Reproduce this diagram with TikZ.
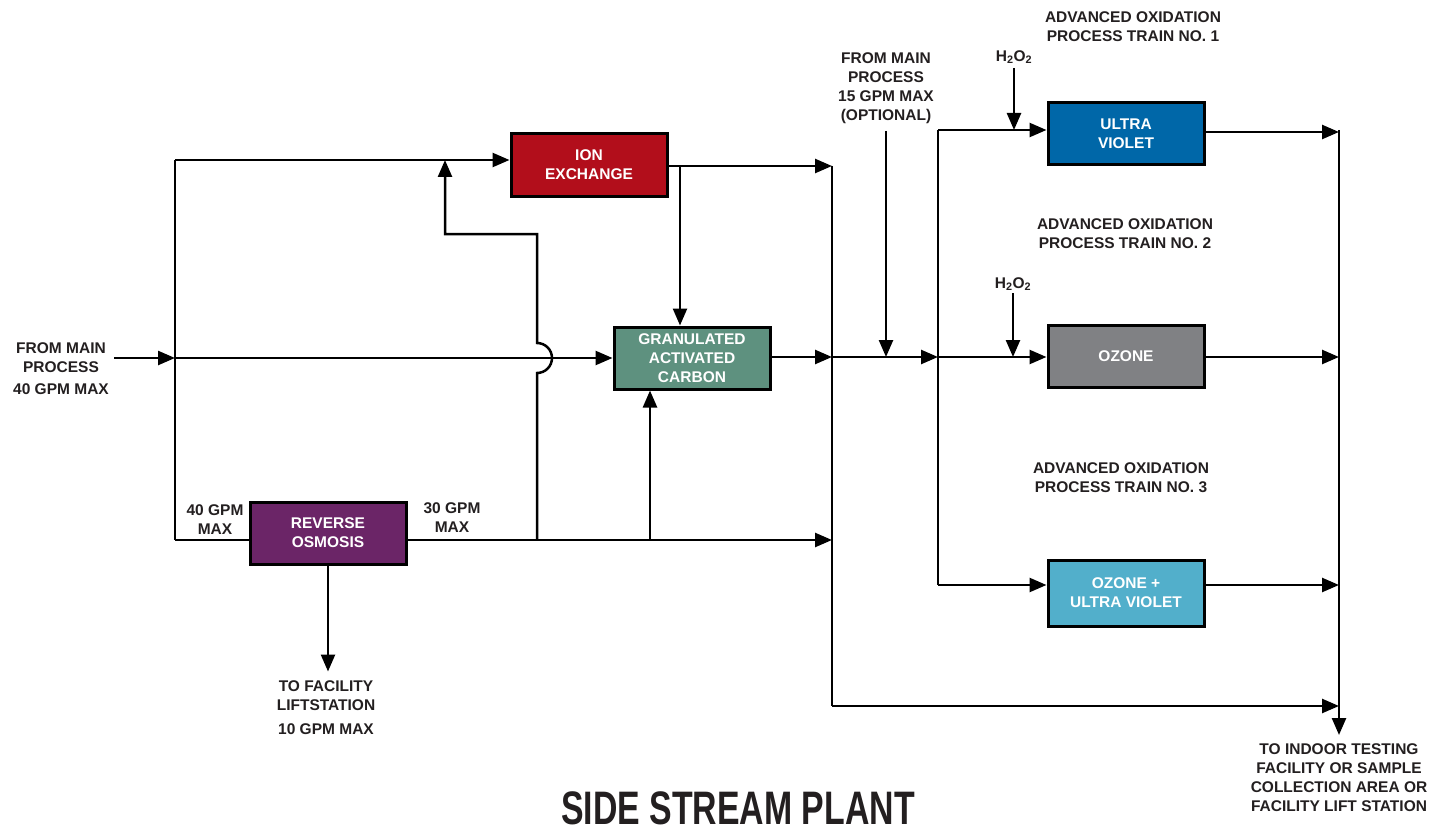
\documentclass[tikz,border=0pt]{standalone}
\usepackage{fontspec}
\usepackage{graphicx}
\setmainfont{Liberation Sans}
\usetikzlibrary{arrows.meta}
\definecolor{ink}{HTML}{231F20}
\definecolor{ixred}{HTML}{B20E1B}
\definecolor{gacgreen}{HTML}{5E917F}
\definecolor{ropurple}{HTML}{6B2567}
\definecolor{uvblue}{HTML}{0067A8}
\definecolor{ozgrey}{HTML}{808184}
\definecolor{ozuvcyan}{HTML}{52AFCB}
\tikzset{
        unit/.style={draw=black, line width=3pt, minimum width=156pt, minimum height=62pt,
                align=center, text=white, inner sep=0pt,
                font=\bfseries\fontsize{15.5}{19}\selectfont},
        lbl/.style={align=center, text=ink, inner sep=0pt,
                font=\bfseries\fontsize{15.5}{19}\selectfont},
        pipe/.style={line width=2.5pt, draw=black},
        flow/.style={pipe, -{Triangle[length=17pt,width=14pt]}}
}
\begin{document}
\begin{tikzpicture}[x=1pt,y=-1pt]
        \useasboundingbox (0,0) rectangle (1449,832);
        % treatment units
        \node[unit, fill=ixred] (ionx) at (589,165) {ION\\EXCHANGE};
        \node[unit, fill=gacgreen] (gac) at (692,358) {GRANULATED\\ACTIVATED\\CARBON};
        \node[unit, fill=ropurple] (ro) at (328,533) {REVERSE\\OSMOSIS};
        \node[unit, fill=uvblue] (uv) at (1126,134) {ULTRA\\VIOLET};
        \node[unit, fill=ozgrey] (ozone) at (1126,356) {OZONE};
        \node[unit, fill=ozuvcyan, minimum height=66pt] (ozuv) at (1126,593) {OZONE +\\ULTRA VIOLET};

        % junctions
        \coordinate (src) at (114,358);
        \coordinate (tee) at (175,358);
        \coordinate (teeUp) at (175,160);
        \coordinate (teeDn) at (175,540);
        \coordinate (bend) at (537,540);
        \coordinate (hopLo) at (537,373);
        \coordinate (bypass) at (445,234);
        \coordinate (gacfeed) at (650,540);
        \coordinate (ixdrop) at (680,166);
        \coordinate (mixTop) at (832,166);
        \coordinate (mixBot) at (832,706);
        \coordinate (hub) at (938,357);
        \coordinate (distTop) at (938,130);
        \coordinate (distBot) at (938,585);
        \coordinate (outTop) at (1339,130);
        \coordinate (outBot) at (1339,735);

        % left side
        \draw[flow] (src) -- (tee);
        \draw[pipe] (teeUp) -- (teeDn);
        \draw[flow] (teeUp) -- (ionx.west |- teeUp);
        \draw[flow] (tee) -- (gac.west |- tee);
        \draw[pipe] (teeDn) -- (ro.west |- teeDn);
        \draw[flow] (ro.east |- bend) -- (bend -| mixTop);
        \draw[flow] (bend) -- (hopLo) arc[start angle=90, end angle=-90, radius=15] -- (bend |- bypass) -- (bypass) -- (bypass |- teeUp);
        %\draw[pipe] (bend) -- (bend |- bypass);
        \draw[flow] (gacfeed) -- (gacfeed |- gac.south);
        \draw[flow] (ixdrop) -- (ixdrop |- gac.north);
        \draw[flow] (ro.south) -- ++(0,106);

        % collector
        \draw[pipe] (mixTop) -- (mixBot);
        \draw[flow] (ionx.east |- mixTop) -- (mixTop);
        \draw[flow] (gac.east |- hub) -- (hub -| mixTop);
        \draw[flow] (hub -| mixTop) -- (hub);

        % advanced oxidation trains
        \draw[pipe] (distTop) -- (distBot);
        \draw[flow] (distTop) -- (uv.west |- distTop);
        \draw[flow] (hub) -- (ozone.west |- hub);
        \draw[flow] (distBot) -- (ozuv.west |- distBot);
        \draw[flow] (outTop) -- (outBot);
        \draw[flow] (uv.east |- 0,132) -- (outTop |- 0,132);
        \draw[flow] (ozone.east |- hub) -- (outTop |- hub);
        \draw[flow] (ozuv.east |- distBot) -- (outTop |- distBot);
        \draw[flow] (mixBot) -- (mixBot -| outTop);

        % labels
        \node[lbl] (srclbl) at (61,369) {FROM MAIN\\PROCESS\\[3pt]40 GPM MAX};
        \node[lbl] (roin) at (215,520) {40 GPM\\MAX};
        \node[lbl] (roout) at (452,518) {30 GPM\\MAX};
        \node[lbl, anchor=north] (lift) at (326,680) {TO FACILITY\\LIFTSTATION\\[5pt]10 GPM MAX};
        \node[lbl, anchor=south] (opt) at (886,124) {FROM MAIN\\PROCESS\\15 GPM MAX\\(OPTIONAL)};
        \draw[flow] (opt.south |- 0,131) -- (opt.south |- hub);
        \node[lbl] (h2a) at (1014,57) {H\textsubscript{2}O\textsubscript{2}};
        \draw[flow] (h2a.south |- 0,68) -- (h2a.south |- distTop);
        \node[lbl] (h2b) at (1013,284) {H\textsubscript{2}O\textsubscript{2}};
        \draw[flow] (h2b.south |- 0,293) -- (h2b.south |- hub);
        \node[lbl] (aop1) at (1133,27) {ADVANCED OXIDATION\\PROCESS TRAIN NO. 1};
        \node[lbl] (aop2) at (1125,234) {ADVANCED OXIDATION\\PROCESS TRAIN NO. 2};
        \node[lbl] (aop3) at (1121,478) {ADVANCED OXIDATION\\PROCESS TRAIN NO. 3};
        \node[lbl, anchor=north] (dest) at (1339,743) {TO INDOOR TESTING\\FACILITY OR SAMPLE\\COLLECTION AREA OR\\FACILITY LIFT STATION};
        \node[text=ink, inner sep=0pt] (title) at (738,808) {\scalebox{0.72}[1]{\bfseries\fontsize{47}{47}\selectfont SIDE STREAM PLANT}};
\end{tikzpicture}
\end{document}
